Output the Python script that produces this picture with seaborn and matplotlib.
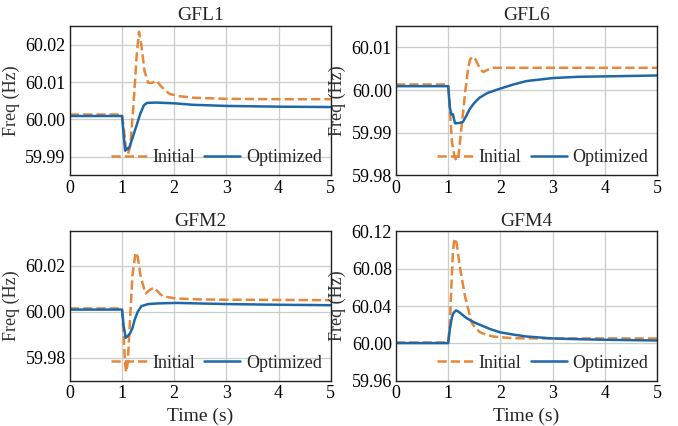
import matplotlib
matplotlib.use("Agg")
import matplotlib.pyplot as plt
import numpy as np
import pandas as pd
import seaborn as sns

# values (time in s, frequency in Hz)
gfl1_init_t = [0, 1.0, 1.03, 1.07, 1.115, 1.16, 1.22, 1.28, 1.325, 1.37, 1.43, 1.50, 1.58, 1.66, 1.75, 1.91, 2.1, 2.36, 3.0, 4.0, 5.0]
gfl1_init_f = [60.0013, 60.0013, 59.998, 59.993, 59.9907, 59.993, 60.004, 60.017, 60.0235, 60.020, 60.013, 60.0098, 60.0098, 60.0104, 60.0088, 60.0068, 60.0062, 60.0058, 60.0055, 60.0054, 60.0054]
gfl1_opt_t = [0, 1.0, 1.03, 1.06, 1.09, 1.11, 1.14, 1.2, 1.27, 1.35, 1.42, 1.48, 1.65, 2.0, 2.36, 3.0, 4.0, 5.0]
gfl1_opt_f = [60.0009, 60.0009, 59.996, 59.9916, 59.9922, 59.992, 59.9925, 59.995, 59.998, 60.0015, 60.0038, 60.0044, 60.0045, 60.0043, 60.0039, 60.0036, 60.0034, 60.0033]

gfl6_init_t = [0, 1.0, 1.03, 1.07, 1.12, 1.16, 1.2, 1.26, 1.33, 1.38, 1.42, 1.465, 1.52, 1.6, 1.67, 1.75, 1.86, 2.2, 3.0, 5.0]
gfl6_init_f = [60.0013, 60.0013, 59.996, 59.988, 59.9845, 59.9834, 59.985, 59.992, 60.000, 60.005, 60.0072, 60.0078, 60.0072, 60.0052, 60.0042, 60.0047, 60.0052, 60.0052, 60.0052, 60.0052]
gfl6_opt_t = [0, 1.0, 1.03, 1.06, 1.09, 1.13, 1.22, 1.28, 1.34, 1.41, 1.5, 1.6, 1.75, 1.99, 2.25, 2.5, 3.0, 3.5, 4.03, 5.0]
gfl6_opt_f = [60.0009, 60.0009, 59.996, 59.9943, 59.9943, 59.9922, 59.9923, 59.9925, 59.9938, 59.9955, 59.997, 59.9982, 59.9993, 60.0003, 60.0013, 60.0021, 60.0028, 60.0031, 60.0032, 60.0034]

gfm2_init_t = [0, 1.0, 1.03, 1.06, 1.08, 1.11, 1.15, 1.2, 1.26, 1.3, 1.36, 1.45, 1.53, 1.61, 1.7, 1.78, 2.04, 2.5, 3.0, 5.0]
gfm2_init_f = [60.0015, 60.0015, 59.990, 59.977, 59.9738, 59.978, 59.995, 60.016, 60.0258, 60.024, 60.015, 60.008, 60.0095, 60.0106, 60.0085, 60.0068, 60.0058, 60.0054, 60.0053, 60.0051]
gfm2_opt_t = [0, 1.0, 1.03, 1.07, 1.11, 1.15, 1.2, 1.24, 1.3, 1.37, 1.5, 1.7, 2.04, 3.0, 4.0, 5.0]
gfm2_opt_f = [60.001, 60.001, 59.994, 59.9887, 59.9895, 59.9905, 59.993, 59.9964, 60.0, 60.0025, 60.0034, 60.0037, 60.0039, 60.0034, 60.0031, 60.0029]

gfm4_init_t = [0, 1.0, 1.03, 1.06, 1.09, 1.11, 1.13, 1.16, 1.22, 1.32, 1.45, 1.53, 1.61, 1.72, 1.86, 2.24, 3.0, 5.0]
gfm4_init_f = [60.0011, 60.0011, 60.02, 60.06, 60.098, 60.108, 60.1125, 60.108, 60.083, 60.051, 60.022, 60.016, 60.012, 60.0095, 60.0075, 60.0056, 60.0054, 60.0054]
gfm4_opt_t = [0, 1.0, 1.03, 1.07, 1.1, 1.15, 1.2, 1.35, 1.5, 1.61, 1.8, 1.99, 2.25, 2.5, 3.0, 3.5, 4.0, 5.0]
gfm4_opt_f = [60.0004, 60.0004, 60.015, 60.028, 60.0326, 60.0355, 60.034, 60.0272, 60.0225, 60.020, 60.0155, 60.012, 60.0095, 60.0075, 60.0054, 60.0046, 60.004, 60.0032]

titles = ["GFL1", "GFL6", "GFM2", "GFM4"]
series = [
    (gfl1_init_t, gfl1_init_f, gfl1_opt_t, gfl1_opt_f),
    (gfl6_init_t, gfl6_init_f, gfl6_opt_t, gfl6_opt_f),
    (gfm2_init_t, gfm2_init_f, gfm2_opt_t, gfm2_opt_f),
    (gfm4_init_t, gfm4_init_f, gfm4_opt_t, gfm4_opt_f),
]
ylims = [(59.985, 60.025), (59.98, 60.015), (59.97, 60.035), (59.96, 60.12)]
yticks = [[59.99, 60.00, 60.01, 60.02], [59.98, 59.99, 60.00, 60.01],
          [59.98, 60.00, 60.02], [59.96, 60.00, 60.04, 60.08, 60.12]]

sns.set_theme(style="whitegrid")
plt.rcParams["font.family"] = ["Liberation Serif", "DejaVu Serif"]
plt.rcParams["mathtext.fontset"] = "stix"

orange = "#e6873a"
blue = "#1f68a8"

fig, axes = plt.subplots(2, 2, figsize=(6.78, 4.26), dpi=100)
fig.subplots_adjust(left=0.103, right=0.969, top=0.939, bottom=0.106,
                    wspace=0.25, hspace=0.375)

for i, ax in enumerate(axes.flat):
    ti, fi, to, fo = series[i]
    sns.lineplot(x=ti, y=fi, ax=ax, color=orange, linestyle="--", lw=1.8, label="Initial")
    sns.lineplot(x=to, y=fo, ax=ax, color=blue, lw=1.8, label="Optimized")
    ax.set_xlim(0, 5)
    ax.set_ylim(*ylims[i])
    ax.set_yticks(yticks[i])
    ax.set_yticklabels(["%.2f" % v for v in yticks[i]])
    ax.set_xticks([0, 1, 2, 3, 4, 5])
    ax.set_title(titles[i], fontsize=14, pad=4)
    ax.set_ylabel("Freq (Hz)", fontsize=13, color="#333333")
    if i >= 2:
        ax.set_xlabel("Time (s)", fontsize=14)
    else:
        ax.set_xlabel("")
    ax.tick_params(labelsize=13, length=2, pad=1, colors="black")
    ax.grid(True, color="#c8cfc8", lw=0.9)
    for s in ax.spines.values():
        s.set_color("#222222")
        s.set_linewidth(1.0)
    ax.legend(loc="lower right", ncol=2, frameon=False, fontsize=13,
              handlelength=2.0, handletextpad=0.3, columnspacing=0.5,
              borderaxespad=0.1)

fig.savefig("out.png", dpi=100)
